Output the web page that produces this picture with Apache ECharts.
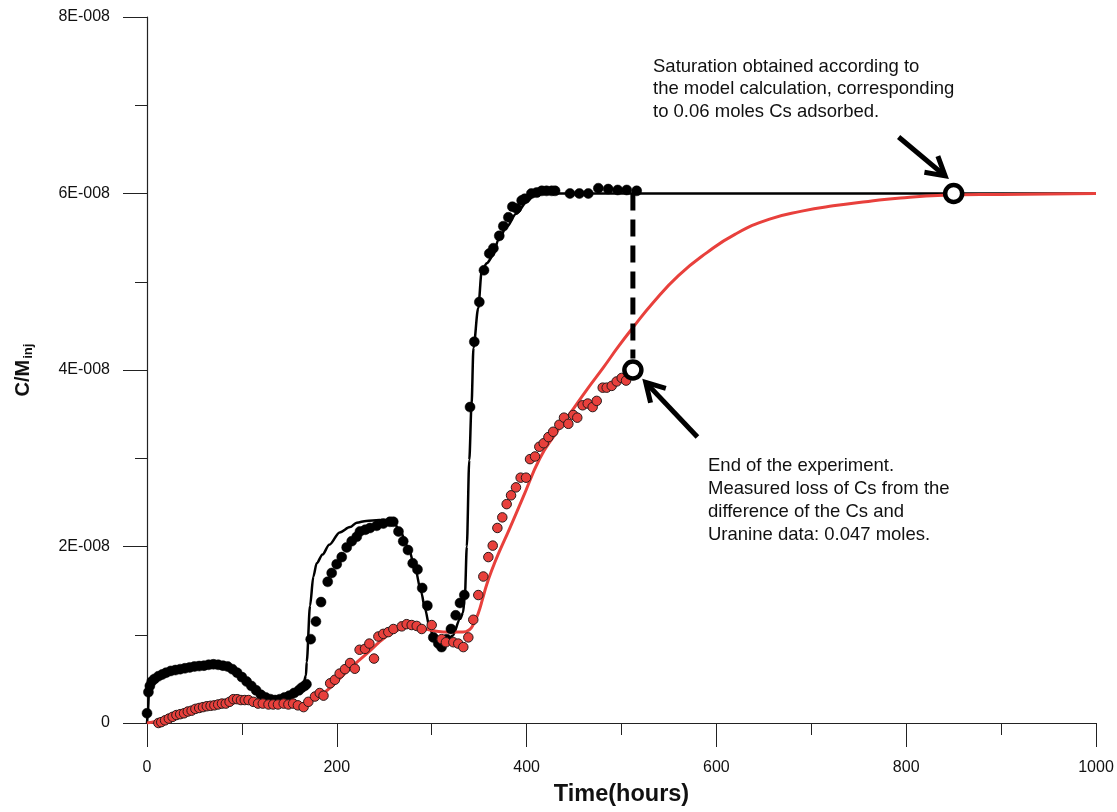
<!DOCTYPE html>
<html>
<head>
<meta charset="utf-8">
<script src="https://cdn.jsdelivr.net/npm/echarts@6/dist/echarts.min.js"></script>
<style>
html,body{margin:0;padding:0;background:#fff;}
#chart{width:1117px;height:812px;}
</style>
</head>
<body>
<div id="chart"></div>
<script>
// Values in units of 1E-008
const xTicks = [0, 200, 400, 600, 800, 1000];
const yTickLabels = {0: '0', 2: '2E-008', 4: '4E-008', 6: '6E-008', 8: '8E-008'};

// Uranine measured (black dots): [hours, C/Minj (E-8)]
const uranineObs = [
  [0,0.11],[1.5,0.35],[3,0.42],[5,0.47],[8,0.50],[12,0.53],[16,0.55],[20,0.57],[25,0.59],[30,0.60],
  [35,0.61],[40,0.62],[45,0.63],[50,0.64],[55,0.645],[60,0.65],[65,0.66],[70,0.665],[75,0.66],[80,0.65],
  [85,0.64],[90,0.61],[95,0.57],[100,0.52],[105,0.47],[110,0.42],[115,0.37],[120,0.32],[125,0.29],[130,0.27],
  [135,0.26],[140,0.27],[145,0.29],[150,0.31],[155,0.34],[160,0.37],[163,0.40],[166,0.42],[168,0.44],
  [172.5,0.95],[178,1.15],[183.4,1.37],[190.4,1.60],[194.6,1.70],[199.9,1.80],[205.2,1.88],[210.4,1.99],
  [215.7,2.06],[221,2.11],[224.4,2.17],[230,2.19],[235,2.21],[242,2.235],[249,2.26],[256,2.28],[259.5,2.28],
  [265,2.17],[270,2.06],[275,1.96],[280,1.81],[285,1.74],[290,1.53],[295.4,1.33],[301.7,0.97],[307,0.90],
  [310.4,0.86],[315.8,0.95],[320.3,1.065],[325.3,1.22],[329.8,1.36],[334.4,1.45],[340.4,3.58],[344.9,4.32],
  [350.2,4.77],[355.1,5.13],[360.7,5.32],[365,5.38],[371.2,5.52],[375.5,5.63],[380.8,5.73],[385,5.85],
  [389.5,5.83],[394.8,5.92],[398,5.94],[405,6.0],[410.6,6.01],[416,6.03],[421,6.03],[426.5,6.03],[430,6.03],
  [445.7,6.0],[455.6,6.0],[465,6.0],[475.6,6.06],[486,6.05],[496,6.04],[505.5,6.04],[516,6.03]
];

// Uranine model (black line)
const uranineModel = [
  [0,0],[1,0.12],[2,0.33],[4,0.42],[7,0.47],[12,0.52],[20,0.56],[30,0.60],[40,0.62],[50,0.64],[60,0.65],
  [70,0.66],[80,0.65],[88,0.62],[95,0.57],[102,0.50],[110,0.42],[118,0.34],[125,0.29],[132,0.26],[140,0.26],
  [148,0.29],[156,0.33],[161,0.40],[165,0.45],[167.5,0.54],[168.3,0.69],[171.8,1.33],[175.3,1.66],[178.8,1.81],
  [185,1.91],[192,2.02],[203,2.16],[214,2.22],[221,2.27],[231,2.29],[245,2.30],[259,2.29],[266,2.19],[275,2.0],
  [282,1.78],[289,1.48],[293,1.29],[298,1.07],[303,0.95],[308,0.86],[315,0.91],[322,0.99],[330,1.18],[333,1.25],
  [335,1.45],[337,2.0],[339.6,2.98],[342,3.61],[344,4.25],[349,4.70],[352.7,5.12],[358,5.21],[365,5.30],
  [370,5.47],[379,5.62],[389,5.77],[400,5.90],[407,5.97],[418,6.0],[600,6.0],[800,6.0],[1000,6.0]
];

// Cs measured (red dots)
const csObs = [
  [8,-0.02],[12,0.0],[15,0.01],[19,0.03],[23,0.05],[27,0.07],[31,0.09],[35,0.10],[39,0.11],[43,0.13],
  [47,0.14],[51,0.16],[55,0.17],[59,0.18],[63,0.19],[67,0.195],[71,0.20],[75,0.21],[79,0.22],[83,0.22],
  [87,0.24],[91,0.27],[95,0.27],[99,0.26],[103,0.26],[107,0.26],[112,0.24],[117,0.22],[122,0.22],[128,0.21],
  [133,0.21],[138,0.21],[144,0.22],[149,0.21],[154,0.22],[159,0.20],[165,0.18],[170,0.24],[177,0.30],[182,0.34],
  [186,0.31],[193,0.45],[198,0.49],[203,0.56],[208.6,0.61],[214,0.68],[219,0.615],[224,0.83],[229.7,0.84],
  [234.3,0.90],[239.2,0.73],[243.8,0.98],[249,1.01],[254.3,1.03],[259.6,1.065],[268.4,1.095],[273.6,1.12],
  [278.9,1.11],[284.2,1.10],[289.5,1.065],[300,1.11],[310.5,0.95],[315,0.915],[322.8,0.915],[328,0.90],
  [333.3,0.86],[338.6,0.97],[343.8,1.17],[349.1,1.45],[354.4,1.66],[359.7,1.88],[364.3,2.01],[369.2,2.21],
  [374.4,2.33],[379,2.48],[383.6,2.58],[388.8,2.67],[393.7,2.78],[399.4,2.78],[403.6,2.99],[408.9,3.02],
  [413.4,3.13],[418,3.17],[423,3.24],[428,3.30],[434.5,3.38],[439.4,3.46],[444,3.39],[449.2,3.49],[453.4,3.46],
  [459,3.60],[464.4,3.62],[469.6,3.58],[473.9,3.65],[480.2,3.80],[484.4,3.80],[489.7,3.82],[494.9,3.87],
  [500.2,3.91],[504.8,3.88]
];

// Cs model (red line)
const csModel = [
  [0,0],[10,0.02],[20,0.05],[40,0.11],[60,0.17],[80,0.21],[100,0.24],[115,0.25],[130,0.235],[150,0.22],
  [165,0.22],[175,0.26],[185,0.33],[196,0.43],[214,0.62],[231,0.78],[252,0.98],[266,1.06],[280,1.09],[291,1.07],
  [305,1.04],[319,1.03],[333,1.03],[340,1.06],[344,1.12],[349,1.24],[354,1.42],[358,1.57],[364,1.75],[370,1.91],
  [382,2.2],[396,2.55],[414,3.0],[430,3.27],[446,3.51],[463,3.77],[481,4.03],[497,4.27],[512,4.48],[533,4.76],
  [560,5.07],[590,5.33],[620,5.54],[656,5.71],[690,5.80],[723,5.86],[760,5.91],[794,5.95],[839,5.98],[900,5.99],[1000,6.0]
];

// Annotation anchors (data space)
const endMarker = [512, 4.0];
const satMarker = [850, 6.0];
const dashedLine = [[512, 6.0], [512, 4.13]];
const arrowSat = {tail: [792, 6.64], tip: [841, 6.20]};
const arrowEnd = {tail: [580, 3.24], tip: [525.5, 3.86]};
const noteSat = ['Saturation obtained according to', 'the model calculation, corresponding', 'to 0.06 moles Cs adsorbed.'];
const noteEnd = ['End of the experiment.', 'Measured loss of Cs from the', 'difference of the Cs and', 'Uranine data: 0.047 moles.'];

const FONT = 'Arial, "Liberation Sans", Helvetica, sans-serif';
const chart = echarts.init(document.getElementById('chart'), null, {renderer: 'canvas'});

const option = {
  backgroundColor: '#fff',
  animation: false,
  grid: {left: 147, right: 21, top: 17, bottom: 84, containLabel: false},
  xAxis: {
    type: 'value', min: 0, max: 1000, interval: 200,
    name: 'Time(hours)', nameLocation: 'middle', nameGap: 60,
    nameTextStyle: {fontFamily: FONT, fontSize: 23.5, fontWeight: 'bold', color: '#111'},
    axisLine: {show: true, onZero: false, lineStyle: {color: '#222', width: 1.2}},
    axisTick: {show: true, inside: false, length: 24, lineStyle: {color: '#222', width: 1}},
    minorTick: {show: true, splitNumber: 2, length: 12, lineStyle: {color: '#222', width: 1}},
    axisLabel: {margin: 37, fontFamily: FONT, fontSize: 16, color: '#111', formatter: v => String(v)},
    splitLine: {show: false}, minorSplitLine: {show: false}
  },
  yAxis: {
    type: 'value', min: 0, max: 8, interval: 2,
    name: '{a|C/M}{b|inj}', nameLocation: 'middle', nameRotate: 90, nameGap: 112,
    nameTextStyle: {
      color: '#111',
      rich: {
        a: {fontFamily: FONT, fontSize: 20, fontWeight: 'bold', color: '#111', lineHeight: 24},
        b: {fontFamily: FONT, fontSize: 13, fontWeight: 'bold', color: '#111', lineHeight: 24, padding: [10, 0, 0, 1]}
      }
    },
    axisLine: {show: true, onZero: false, lineStyle: {color: '#222', width: 1.2}},
    axisTick: {show: true, inside: false, length: 24, lineStyle: {color: '#222', width: 1}},
    minorTick: {show: true, splitNumber: 2, length: 12, lineStyle: {color: '#222', width: 1}},
    axisLabel: {margin: 37, fontFamily: FONT, fontSize: 16, color: '#111',
      formatter: v => yTickLabels[v] !== undefined ? yTickLabels[v] : ''},
    splitLine: {show: false}, minorSplitLine: {show: false}
  },
  series: [
    {
      name: 'Uranine model', type: 'line', data: uranineModel, showSymbol: false, symbol: 'none',
      smooth: 0.3, smoothMonotone: 'x', z: 2,
      lineStyle: {color: '#000', width: 2.5}
    },
    {
      name: 'Cs model', type: 'line', data: csModel, showSymbol: false, symbol: 'none',
      smooth: 0.5, z: 2,
      lineStyle: {color: '#e8403c', width: 3}
    },
    {
      name: 'Uranine data', type: 'scatter', data: uranineObs, symbol: 'circle', symbolSize: 10, z: 3,
      itemStyle: {color: '#000', borderColor: '#000', borderWidth: 0.5, opacity: 1}
    },
    {
      name: 'Cs data', type: 'scatter', data: csObs, symbol: 'circle', symbolSize: 9.5, z: 3,
      itemStyle: {color: '#e8403c', borderColor: '#2a1a1a', borderWidth: 1, opacity: 1}
    },
    {
      name: 'Dashed', type: 'line', data: dashedLine, showSymbol: false, symbol: 'none', z: 4,
      lineStyle: {color: '#000', width: 5, type: [17, 9]}
    },
    {
      name: 'Markers', type: 'scatter', data: [endMarker, satMarker], symbol: 'circle', symbolSize: 17, z: 5,
      itemStyle: {color: '#fff', borderColor: '#000', borderWidth: 4.5, opacity: 1}
    }
  ]
};
chart.setOption(option);

function arrowGraphics(a) {
  const tail = chart.convertToPixel({gridIndex: 0}, a.tail);
  const tip = chart.convertToPixel({gridIndex: 0}, a.tip);
  const ang = Math.atan2(tail[1] - tip[1], tail[0] - tip[0]);
  const L = 21, spread = Math.PI / 6;
  const p1 = [tip[0] + L * Math.cos(ang + spread), tip[1] + L * Math.sin(ang + spread)];
  const p2 = [tip[0] + L * Math.cos(ang - spread), tip[1] + L * Math.sin(ang - spread)];
  return [
    {type: 'line', shape: {x1: tail[0], y1: tail[1], x2: tip[0], y2: tip[1]}, style: {stroke: '#000', lineWidth: 5}, z: 10},
    {type: 'polyline', shape: {points: [p1, tip, p2]}, style: {stroke: '#000', fill: null, lineWidth: 5, lineJoin: 'miter'}, z: 10}
  ];
}
function noteGraphics(lines, left, top, lh) {
  return lines.map((t, i) => ({
    type: 'text', left: left, top: top + i * lh, z: 10,
    style: {text: t, fontFamily: FONT, fontSize: 18.5, fill: '#111'}
  }));
}
chart.setOption({
  graphic: [].concat(
    arrowGraphics(arrowSat),
    arrowGraphics(arrowEnd),
    noteGraphics(noteSat, 653, 57, 22.5),
    noteGraphics(noteEnd, 708, 456, 23)
  )
});
</script>
</body>
</html>
